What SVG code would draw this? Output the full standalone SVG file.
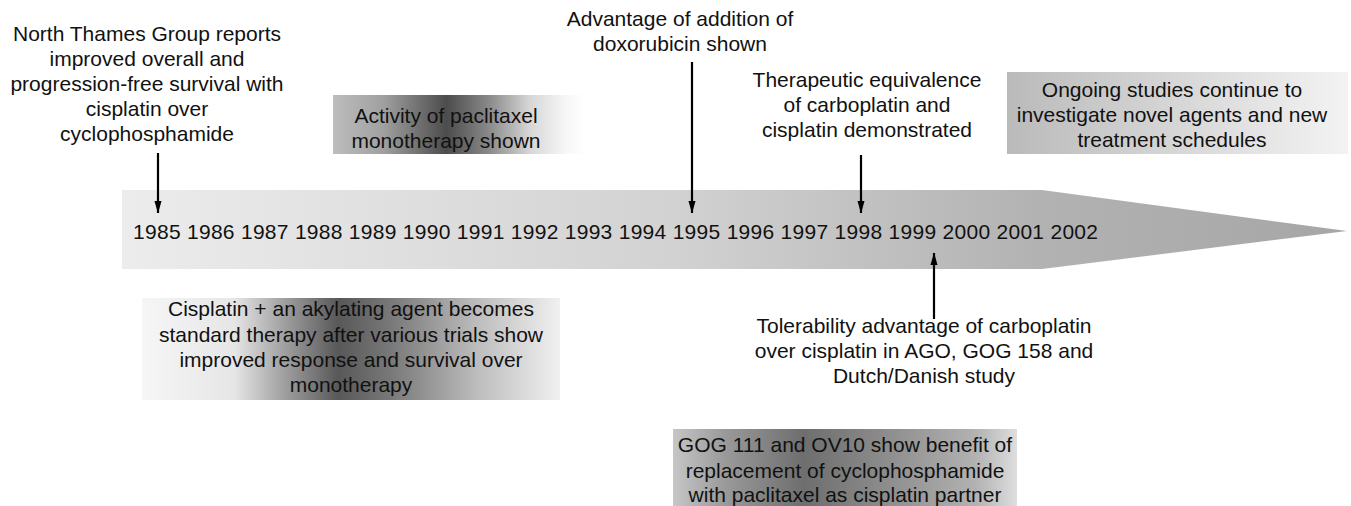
<svg xmlns="http://www.w3.org/2000/svg" width="1351" height="506" viewBox="0 0 1351 506">
<defs>
<style>
text{font-family:"Liberation Sans",Arial,Helvetica,sans-serif;font-size:21px;fill:#111;}
.c{text-anchor:middle;}
.conn line{stroke:#000;stroke-width:2.2;}
</style>
<marker id="ah" markerWidth="13" markerHeight="8" refX="12" refY="4" orient="auto" markerUnits="userSpaceOnUse" viewBox="0 0 13 8">
<path d="M0,0.5 L12.5,4 L0,7.5 Z" fill="#000"/>
</marker>
<linearGradient id="gTime" gradientUnits="userSpaceOnUse" x1="122" y1="0" x2="1347" y2="0">
<stop offset="0" stop-color="#ececec"/>
<stop offset="0.45" stop-color="#d2d2d2"/>
<stop offset="0.75" stop-color="#b2b2b2"/>
<stop offset="1" stop-color="#a6a6a6"/>
</linearGradient>
<linearGradient id="gPac" x1="0" y1="0" x2="1" y2="0">
<stop offset="0" stop-color="#bdbdbd"/>
<stop offset="0.2" stop-color="#a0a0a0"/>
<stop offset="0.45" stop-color="#4c4c4c"/>
<stop offset="0.62" stop-color="#8a8a8a"/>
<stop offset="0.78" stop-color="#d6d6d6"/>
<stop offset="0.92" stop-color="#f6f6f6"/>
<stop offset="1" stop-color="#ffffff"/>
</linearGradient>
<linearGradient id="gOn" x1="0" y1="0" x2="1" y2="0">
<stop offset="0" stop-color="#bababa"/>
<stop offset="1" stop-color="#f3f3f3"/>
</linearGradient>
<linearGradient id="gCis" x1="0" y1="0" x2="1" y2="0">
<stop offset="0" stop-color="#f6f6f6"/>
<stop offset="0.22" stop-color="#e6e6e6"/>
<stop offset="0.35" stop-color="#9a9a9a"/>
<stop offset="0.47" stop-color="#585858"/>
<stop offset="0.6" stop-color="#7a7a7a"/>
<stop offset="0.8" stop-color="#bcbcbc"/>
<stop offset="1" stop-color="#f0f0f0"/>
</linearGradient>
<linearGradient id="gGog" x1="0" y1="0" x2="1" y2="0">
<stop offset="0" stop-color="#c6c6c6"/>
<stop offset="0.15" stop-color="#9a9a9a"/>
<stop offset="0.38" stop-color="#6e6e6e"/>
<stop offset="0.6" stop-color="#8a8a8a"/>
<stop offset="0.88" stop-color="#b2b2b2"/>
<stop offset="1" stop-color="#dedede"/>
</linearGradient>
</defs>
<rect width="1351" height="506" fill="#fff"/>

<g id="timeline">
<path d="M122,190 L1042,190 L1347,231 L1042,269 L122,269 Z" fill="url(#gTime)"/>
<text x="133" y="239" textLength="965" lengthAdjust="spacing">1985 1986 1987 1988 1989 1990 1991 1992 1993 1994 1995 1996 1997 1998 1999 2000 2001 2002</text>
</g>

<g id="north-thames">
<text class="c" x="147" y="41">North Thames Group reports</text>
<text class="c" x="147" y="66">improved overall and</text>
<text class="c" x="147" y="91">progression-free survival with</text>
<text class="c" x="147" y="116">cisplatin over</text>
<text class="c" x="147" y="141">cyclophosphamide</text>
</g>

<g id="paclitaxel-activity">
<rect x="333" y="95" width="252" height="59" fill="url(#gPac)"/>
<text class="c" x="446" y="123">Activity of paclitaxel</text>
<text class="c" x="446" y="148">monotherapy shown</text>
</g>

<g id="doxorubicin">
<text class="c" x="680" y="26">Advantage of addition of</text>
<text class="c" x="680" y="51">doxorubicin shown</text>
</g>

<g id="carboplatin-equivalence">
<text class="c" x="867" y="87">Therapeutic equivalence</text>
<text class="c" x="867" y="112">of carboplatin and</text>
<text class="c" x="867" y="137">cisplatin demonstrated</text>
</g>

<g id="ongoing">
<rect x="1007" y="72" width="341" height="82" fill="url(#gOn)"/>
<text class="c" x="1172" y="97">Ongoing studies continue to</text>
<text class="c" x="1172" y="122">investigate novel agents and new</text>
<text class="c" x="1172" y="147">treatment schedules</text>
</g>

<g id="cisplatin-standard">
<rect x="142" y="298" width="418" height="102" fill="url(#gCis)"/>
<text class="c" x="351" y="316">Cisplatin + an akylating agent becomes</text>
<text class="c" x="351" y="342">standard therapy after various trials show</text>
<text class="c" x="351" y="367">improved response and survival over</text>
<text class="c" x="351" y="392">monotherapy</text>
</g>

<g id="tolerability">
<text class="c" x="924" y="333">Tolerability advantage of carboplatin</text>
<text class="c" x="924" y="358">over cisplatin in AGO, GOG 158 and</text>
<text class="c" x="924" y="383">Dutch/Danish study</text>
</g>

<g id="gog111">
<rect x="673" y="429" width="344" height="80" fill="url(#gGog)"/>
<text class="c" x="845" y="452">GOG 111 and OV10 show benefit of</text>
<text class="c" x="845" y="478">replacement of cyclophosphamide</text>
<text class="c" x="845" y="502">with paclitaxel as cisplatin partner</text>
</g>

<g id="connectors" class="conn">
<line x1="158" y1="153" x2="158" y2="213" marker-end="url(#ah)"/>
<line x1="692" y1="62" x2="692" y2="213" marker-end="url(#ah)"/>
<line x1="861" y1="155" x2="861" y2="213" marker-end="url(#ah)"/>
<line x1="934" y1="319" x2="934" y2="253" marker-end="url(#ah)"/>
</g>
</svg>
